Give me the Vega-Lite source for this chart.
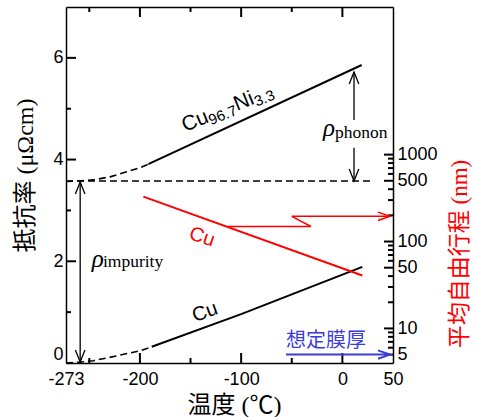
{
  "$schema": "https://vega.github.io/schema/vega-lite/v6.json",
  "width": 327,
  "height": 356,
  "autosize": "none",
  "padding": {"left": 66, "top": 7, "right": 84, "bottom": 54},
  "background": "white",
  "config": {
    "view": {"stroke": null},
    "axis": {"grid": false, "labelFont": "Liberation Sans", "labelFontSize": 18, "labelColor": "black", "domainColor": "black", "domainWidth": 1.5, "titleFontWeight": "normal", "titleColor": "black", "labelFlush": false, "labelOverlap": false}
  },
  "datasets": {
    "curves": [
      {"s": "CuNi_d", "T": -273, "r": 3.57},
      {"s": "CuNi_d", "T": -260, "r": 3.58},
      {"s": "CuNi_d", "T": -246, "r": 3.6},
      {"s": "CuNi_d", "T": -229.5, "r": 3.66},
      {"s": "CuNi_d", "T": -213, "r": 3.76},
      {"s": "CuNi_d", "T": -200, "r": 3.84},
      {"s": "CuNi_d", "T": -191.7, "r": 3.91},
      {"s": "CuNi", "T": -191.7, "r": 3.91},
      {"s": "CuNi", "T": 19.1, "r": 5.86},
      {"s": "Cu_d", "T": -273, "r": 0},
      {"s": "Cu_d", "T": -260, "r": 0.015},
      {"s": "Cu_d", "T": -246, "r": 0.045},
      {"s": "Cu_d", "T": -223, "r": 0.14},
      {"s": "Cu_d", "T": -200, "r": 0.24},
      {"s": "Cu_d", "T": -188.3, "r": 0.32},
      {"s": "Cu", "T": -188.3, "r": 0.32},
      {"s": "Cu", "T": -100, "r": 0.96},
      {"s": "Cu", "T": 19.7, "r": 1.89},
      {"s": "base", "T": -273, "r": 3.58},
      {"s": "base", "T": 28, "r": 3.58}
    ],
    "vseg": [
      {"T": -259, "a": 0.02, "b": 3.56},
      {"T": 11.5, "a": 4.78, "b": 5.72},
      {"T": 11.5, "a": 3.58, "b": 4.23}
    ],
    "tickV": [
      {"T": -200, "a": 0, "b": 0.197},
      {"T": -100, "a": 0, "b": 0.197},
      {"T": 0, "a": 0, "b": 0.197},
      {"T": -250, "a": 0, "b": 0.098},
      {"T": -150, "a": 0, "b": 0.098},
      {"T": -50, "a": 0, "b": 0.098},
      {"T": -200, "a": 6.803, "b": 7},
      {"T": -100, "a": 6.803, "b": 7},
      {"T": 0, "a": 6.803, "b": 7},
      {"T": -250, "a": 6.902, "b": 7},
      {"T": -150, "a": 6.902, "b": 7},
      {"T": -50, "a": 6.902, "b": 7}
    ],
    "tickL": [
      {"r": 2, "u": -273, "v": -263.1},
      {"r": 4, "u": -273, "v": -263.1},
      {"r": 6, "u": -273, "v": -263.1},
      {"r": 1, "u": -273, "v": -268.06},
      {"r": 3, "u": -273, "v": -268.06},
      {"r": 5, "u": -273, "v": -268.06}
    ],
    "tickR": [
      {"m": 5, "u": 50, "v": 41.1},
      {"m": 10, "u": 50, "v": 41.1},
      {"m": 50, "u": 50, "v": 41.1},
      {"m": 100, "u": 50, "v": 41.1},
      {"m": 500, "u": 50, "v": 41.1},
      {"m": 1000, "u": 50, "v": 41.1},
      {"m": 6, "u": 50, "v": 45.06},
      {"m": 7, "u": 50, "v": 45.06},
      {"m": 8, "u": 50, "v": 45.06},
      {"m": 9, "u": 50, "v": 45.06},
      {"m": 20, "u": 50, "v": 45.06},
      {"m": 30, "u": 50, "v": 45.06},
      {"m": 40, "u": 50, "v": 45.06},
      {"m": 60, "u": 50, "v": 45.06},
      {"m": 70, "u": 50, "v": 45.06},
      {"m": 80, "u": 50, "v": 45.06},
      {"m": 90, "u": 50, "v": 45.06},
      {"m": 200, "u": 50, "v": 45.06},
      {"m": 300, "u": 50, "v": 45.06},
      {"m": 400, "u": 50, "v": 45.06},
      {"m": 600, "u": 50, "v": 45.06},
      {"m": 700, "u": 50, "v": 45.06},
      {"m": 800, "u": 50, "v": 45.06},
      {"m": 900, "u": 50, "v": 45.06}
    ],
    "headUp": [{"T": -259, "r": 3.56}, {"T": 11.5, "r": 5.72}],
    "headDown": [{"T": -259, "r": 0.02}, {"T": 11.5, "r": 3.58}],
    "cuniBig": [{"T": -155.5, "r": 4.542, "t": "Cu"}, {"T": -104.2, "r": 4.955, "t": "Ni"}],
    "cuniSub": [{"T": -129.7, "r": 4.676, "t": "96.7"}, {"T": -84.7, "r": 5.038, "t": "3.3"}],
    "cuBlack": [{"T": -135.7, "r": 1.0, "t": "Cu"}],
    "rho": [{"T": -19.1, "r": 4.454, "t": "ρ"}, {"T": -247.6, "r": 1.897, "t": "ρ"}],
    "rhoSub": [{"T": -7.3, "r": 4.424, "t": "phonon"}, {"T": -236.5, "r": 1.897, "t": "impurity"}],
    "mfp": [{"T": -196.6, "m": 329}, {"T": 19.7, "m": 40.6}],
    "zig": [
      {"o": 1, "T": -113, "m": 149},
      {"o": 2, "T": -31, "m": 149},
      {"o": 3, "T": -50, "m": 195},
      {"o": 4, "T": 47, "m": 195}
    ],
    "redTip": [{"T": 47, "m": 195}],
    "blue": [{"T1": -55.7, "T2": 47, "m": 5}],
    "blueTip": [{"T": 47, "m": 5}],
    "blueText": [{"T": -55.7, "m": 7.2, "t": "想定膜厚"}],
    "redText": [{"T": -138.7, "m": 112.8, "t": "Cu"}]
  },
  "layer": [
    {
      "data": {"name": "curves"},
      "transform": [{"filter": "datum.s === 'CuNi' || datum.s === 'Cu'"}],
      "mark": {"type": "line", "color": "black", "strokeWidth": 2},
      "encoding": {
        "x": {"field": "T", "type": "quantitative", "scale": {"domain": [-273, 50], "nice": false},
          "axis": {"orient": "bottom", "values": [-273, -200, -100, 0, 50],
            "labelExpr": "'' + datum.value",
            "ticks": false,
            "labelPadding": 7,
            "title": "温度 (℃)", "titleFont": "Liberation Serif, Noto Sans CJK JP", "titleFontSize": 24,
            "titleX": 168, "titleY": 42, "titleAlign": "center", "titleBaseline": "middle", "titleAngle": 0}},
        "y": {"field": "r", "type": "quantitative", "scale": {"domain": [0, 7], "nice": false},
          "axis": {"orient": "left", "values": [0, 2, 4, 6],
            "labelExpr": "'' + datum.value",
            "ticks": false,
            "labelPadding": 3,
            "labelBaseline": {"condition": {"test": "datum.value === 0", "value": "bottom"}, "value": "middle"},
            "title": "抵抗率 (μΩcm)", "titleFont": "Liberation Serif, Noto Sans CJK JP", "titleFontSize": 24,
            "titleX": -41, "titleY": 168, "titleAngle": 270, "titleAlign": "center", "titleBaseline": "middle"}},
        "detail": {"field": "s"}
      }
    },
    {
      "data": {"name": "mfp"},
      "mark": {"type": "line", "color": "#ff0000", "strokeWidth": 2},
      "encoding": {
        "x": {"field": "T", "type": "quantitative", "scale": {"domain": [-273, 50], "nice": false},
          "axis": {"orient": "top", "values": [-200], "ticks": false, "labels": false, "title": null}},
        "y": {"field": "m", "type": "quantitative", "scale": {"type": "log", "domain": [4, 50000], "nice": false},
          "axis": {"orient": "right", "values": [5, 10, 50, 100, 500, 1000],
            "labelExpr": "'' + datum.value",
            "ticks": false,
            "labelPadding": 4,
            "title": "平均自由行程 (nm)", "titleColor": "#ff0000", "titleFont": "Liberation Serif, Noto Sans CJK JP", "titleFontSize": 23,
            "titleX": 66, "titleY": 246.5, "titleAngle": 270, "titleAlign": "center", "titleBaseline": "middle"}}
      }
    },
    {
      "data": {"name": "tickV"},
      "mark": {"type": "rule", "color": "black", "strokeWidth": 2},
      "encoding": {
        "x": {"field": "T", "type": "quantitative", "scale": {"domain": [-273, 50], "nice": false}, "axis": null},
        "y": {"field": "a", "type": "quantitative", "scale": {"domain": [0, 7], "nice": false}, "axis": null},
        "y2": {"field": "b"}
      }
    },
    {
      "data": {"name": "tickL"},
      "mark": {"type": "rule", "color": "black", "strokeWidth": 2},
      "encoding": {
        "x": {"field": "u", "type": "quantitative", "scale": {"domain": [-273, 50], "nice": false}, "axis": null},
        "x2": {"field": "v"},
        "y": {"field": "r", "type": "quantitative", "scale": {"domain": [0, 7], "nice": false}, "axis": null}
      }
    },
    {
      "data": {"name": "tickR"},
      "mark": {"type": "rule", "color": "black", "strokeWidth": 2},
      "encoding": {
        "x": {"field": "u", "type": "quantitative", "scale": {"domain": [-273, 50], "nice": false}, "axis": null},
        "x2": {"field": "v"},
        "y": {"field": "m", "type": "quantitative", "scale": {"type": "log", "domain": [4, 50000], "nice": false}, "axis": null}
      }
    },
    {
      "data": {"name": "curves"},
      "transform": [{"filter": "datum.s === 'CuNi_d' || datum.s === 'Cu_d' || datum.s === 'base'"}],
      "mark": {"type": "line", "color": "black", "strokeWidth": 1.6, "strokeDash": [7, 4]},
      "encoding": {
        "x": {"field": "T", "type": "quantitative", "scale": {"domain": [-273, 50], "nice": false}, "axis": null},
        "y": {"field": "r", "type": "quantitative", "scale": {"domain": [0, 7], "nice": false}, "axis": null},
        "detail": {"field": "s"}
      }
    },
    {
      "data": {"name": "vseg"},
      "mark": {"type": "rule", "color": "black", "strokeWidth": 1.3},
      "encoding": {
        "x": {"field": "T", "type": "quantitative", "scale": {"domain": [-273, 50], "nice": false}, "axis": null},
        "y": {"field": "a", "type": "quantitative", "scale": {"domain": [0, 7], "nice": false}, "axis": null},
        "y2": {"field": "b"}
      }
    },
    {
      "data": {"name": "zig"},
      "mark": {"type": "line", "color": "#ff0000", "strokeWidth": 1.5},
      "encoding": {
        "x": {"field": "T", "type": "quantitative", "scale": {"domain": [-273, 50], "nice": false}, "axis": null},
        "y": {"field": "m", "type": "quantitative", "scale": {"type": "log", "domain": [4, 50000], "nice": false}, "axis": null},
        "order": {"field": "o"}
      }
    },
    {
      "data": {"name": "redTip"},
      "mark": {"type": "point", "shape": "M-1,-0.35L0,0L-1,0.35", "size": 576, "filled": false, "color": "#ff0000", "strokeWidth": 1.5, "opacity": 1},
      "encoding": {
        "x": {"field": "T", "type": "quantitative", "scale": {"domain": [-273, 50], "nice": false}, "axis": null},
        "y": {"field": "m", "type": "quantitative", "scale": {"type": "log", "domain": [4, 50000], "nice": false}, "axis": null}
      }
    },
    {
      "data": {"name": "headUp"},
      "mark": {"type": "point", "shape": "M-0.4,1L0,0L0.4,1", "size": 576, "filled": false, "color": "black", "strokeWidth": 1.3, "opacity": 1},
      "encoding": {
        "x": {"field": "T", "type": "quantitative", "scale": {"domain": [-273, 50], "nice": false}, "axis": null},
        "y": {"field": "r", "type": "quantitative", "scale": {"domain": [0, 7], "nice": false}, "axis": null}
      }
    },
    {
      "data": {"name": "headDown"},
      "mark": {"type": "point", "shape": "M-0.4,-1L0,0L0.4,-1", "size": 576, "filled": false, "color": "black", "strokeWidth": 1.3, "opacity": 1},
      "encoding": {
        "x": {"field": "T", "type": "quantitative", "scale": {"domain": [-273, 50], "nice": false}, "axis": null},
        "y": {"field": "r", "type": "quantitative", "scale": {"domain": [0, 7], "nice": false}, "axis": null}
      }
    },
    {
      "data": {"name": "cuniBig"},
      "mark": {"type": "text", "font": "Liberation Sans", "fontSize": 21, "angle": -22, "align": "left", "baseline": "alphabetic", "color": "black"},
      "encoding": {
        "x": {"field": "T", "type": "quantitative", "scale": {"domain": [-273, 50], "nice": false}, "axis": null},
        "y": {"field": "r", "type": "quantitative", "scale": {"domain": [0, 7], "nice": false}, "axis": null},
        "text": {"field": "t"}
      }
    },
    {
      "data": {"name": "cuniSub"},
      "mark": {"type": "text", "font": "Liberation Sans", "fontSize": 15, "angle": -22, "align": "left", "baseline": "alphabetic", "color": "black"},
      "encoding": {
        "x": {"field": "T", "type": "quantitative", "scale": {"domain": [-273, 50], "nice": false}, "axis": null},
        "y": {"field": "r", "type": "quantitative", "scale": {"domain": [0, 7], "nice": false}, "axis": null},
        "text": {"field": "t"}
      }
    },
    {
      "data": {"name": "cuBlack"},
      "mark": {"type": "text", "font": "Liberation Sans", "fontSize": 20, "angle": -20, "align": "center", "baseline": "middle", "color": "black"},
      "encoding": {
        "x": {"field": "T", "type": "quantitative", "scale": {"domain": [-273, 50], "nice": false}, "axis": null},
        "y": {"field": "r", "type": "quantitative", "scale": {"domain": [0, 7], "nice": false}, "axis": null},
        "text": {"field": "t"}
      }
    },
    {
      "data": {"name": "rho"},
      "mark": {"type": "text", "font": "Liberation Serif", "fontSize": 25, "fontStyle": "italic", "align": "left", "baseline": "alphabetic", "color": "black"},
      "encoding": {
        "x": {"field": "T", "type": "quantitative", "scale": {"domain": [-273, 50], "nice": false}, "axis": null},
        "y": {"field": "r", "type": "quantitative", "scale": {"domain": [0, 7], "nice": false}, "axis": null},
        "text": {"field": "t"}
      }
    },
    {
      "data": {"name": "rhoSub"},
      "mark": {"type": "text", "font": "Liberation Serif", "fontSize": 17.5, "align": "left", "baseline": "alphabetic", "color": "black"},
      "encoding": {
        "x": {"field": "T", "type": "quantitative", "scale": {"domain": [-273, 50], "nice": false}, "axis": null},
        "y": {"field": "r", "type": "quantitative", "scale": {"domain": [0, 7], "nice": false}, "axis": null},
        "text": {"field": "t"}
      }
    },
    {
      "data": {"name": "blue"},
      "mark": {"type": "rule", "color": "#3c3cd8", "strokeWidth": 2},
      "encoding": {
        "x": {"field": "T1", "type": "quantitative", "scale": {"domain": [-273, 50], "nice": false}, "axis": null},
        "x2": {"field": "T2"},
        "y": {"field": "m", "type": "quantitative", "scale": {"type": "log", "domain": [4, 50000], "nice": false}, "axis": null}
      }
    },
    {
      "data": {"name": "blueTip"},
      "mark": {"type": "point", "shape": "M-1,-0.35L0,0L-1,0.35", "size": 576, "filled": false, "color": "#3c3cd8", "strokeWidth": 2, "opacity": 1},
      "encoding": {
        "x": {"field": "T", "type": "quantitative", "scale": {"domain": [-273, 50], "nice": false}, "axis": null},
        "y": {"field": "m", "type": "quantitative", "scale": {"type": "log", "domain": [4, 50000], "nice": false}, "axis": null}
      }
    },
    {
      "data": {"name": "blueText"},
      "mark": {"type": "text", "font": "Noto Sans CJK JP", "fontSize": 20, "align": "left", "baseline": "middle", "color": "#3c3cd8"},
      "encoding": {
        "x": {"field": "T", "type": "quantitative", "scale": {"domain": [-273, 50], "nice": false}, "axis": null},
        "y": {"field": "m", "type": "quantitative", "scale": {"type": "log", "domain": [4, 50000], "nice": false}, "axis": null},
        "text": {"field": "t"}
      }
    },
    {
      "data": {"name": "redText"},
      "mark": {"type": "text", "font": "Liberation Sans", "fontSize": 20, "angle": 18, "align": "center", "baseline": "middle", "color": "#ff0000"},
      "encoding": {
        "x": {"field": "T", "type": "quantitative", "scale": {"domain": [-273, 50], "nice": false}, "axis": null},
        "y": {"field": "m", "type": "quantitative", "scale": {"type": "log", "domain": [4, 50000], "nice": false}, "axis": null},
        "text": {"field": "t"}
      }
    }
  ],
  "resolve": {"scale": {"y": "independent"}, "axis": {"x": "independent", "y": "independent"}}
}
